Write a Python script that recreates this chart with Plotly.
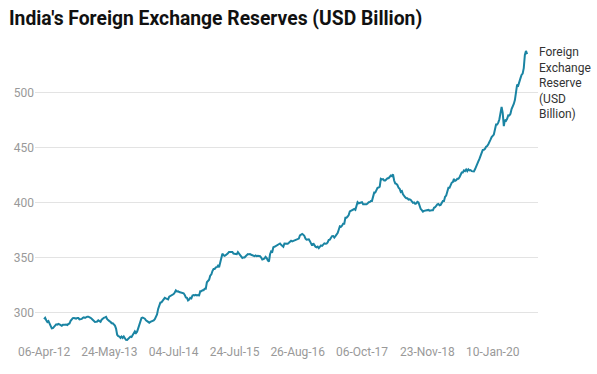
import pandas as pd
import plotly.graph_objects as go

start_date = "2012-04-06"  # weekly (Friday) observations

reserves = [
    # 2012 Apr-Dec
    294.4, 295.6, 293.4, 291.8,
    292.6, 290.0, 288.9, 286.0,
    286.3, 287.4, 289.1, 289.7, 289.4,
    290.0, 289.6, 288.6, 288.4,
    289.2, 289.0, 289.2, 289.4, 289.0,
    290.0, 290.4, 292.8, 294.8,
    295.3, 295.5, 295.2, 294.9,
    295.5, 295.4, 294.1, 294.3, 294.6,
    295.5, 296.0, 295.6, 296.5,
    # 2013
    296.6, 296.6, 296.4, 295.6,
    294.8, 293.6, 292.3, 291.8,
    291.9, 292.2, 293.3, 292.6, 292.0,
    293.9, 295.2, 295.6, 296.0,
    296.5, 294.3, 292.9, 292.6, 292.0,
    290.7, 290.6, 289.2, 288.5,
    285.8, 280.2, 279.0, 278.6,
    277.3, 278.6, 277.4, 278.7, 277.1,
    275.5, 275.4, 276.3, 277.4,
    278.5, 278.1, 280.1, 282.1,
    283.3, 281.8, 283.0, 286.0, 289.5,
    291.0, 295.5, 295.9, 295.5,
    # 2014
    294.8, 293.4, 292.8, 292.0, 291.2,
    291.9, 292.2, 292.5, 293.3,
    294.4, 297.0, 298.6, 303.7,
    305.9, 309.4, 309.7, 311.3,
    312.4, 313.8, 313.3, 312.7, 312.4,
    314.9, 315.6, 315.8, 316.2,
    317.2, 318.6, 320.6, 319.6,
    319.7, 319.0, 318.6, 318.8, 317.7,
    317.9, 316.4, 314.2, 313.8,
    311.4, 312.2, 313.8, 313.3, 315.9,
    316.3, 315.9, 316.4, 315.9,
    316.2, 316.0, 319.7, 319.7,
    # 2015
    320.6, 320.6, 322.1, 322.1, 327.9,
    328.7, 330.2, 333.9, 335.0,
    338.1, 339.9, 339.9, 341.4,
    341.6, 343.0, 341.6, 345.6,
    351.9, 353.9, 352.5, 352.0, 352.5,
    353.9, 354.3, 355.5, 355.6,
    355.5, 355.5, 354.0, 353.5, 353.6,
    353.4, 355.3, 354.0, 352.7,
    351.5, 350.0, 350.5, 350.5,
    351.6, 352.7, 353.6, 353.3, 353.5,
    352.9, 352.5, 352.6, 351.7,
    352.3, 351.6, 352.0, 352.1,
    # 2016
    351.6, 350.4, 348.6, 349.0, 349.6,
    351.0, 350.0, 347.8, 346.7,
    353.4, 356.0, 355.6, 359.8,
    360.2, 360.8, 361.5, 361.6, 362.2,
    363.2, 361.9, 360.5, 360.2,
    363.2, 363.2, 363.5, 362.9,
    363.8, 364.9, 365.7, 365.0, 365.4,
    365.7, 366.6, 366.8, 367.2,
    367.6, 370.6, 371.1, 371.9, 371.2,
    370.0, 367.6, 366.6, 366.8,
    367.0, 365.3, 363.6, 361.2,
    363.3, 361.6, 360.3, 359.7, 360.3,
    # 2017
    358.9, 360.3, 361.4, 361.0,
    362.0, 363.3, 362.9, 363.1,
    364.2, 366.4, 366.7, 367.9, 369.9,
    370.0, 368.6, 369.9, 371.1,
    372.7, 375.7, 378.8, 378.4,
    379.3, 381.2, 381.2, 386.5, 386.5,
    387.7, 389.0, 392.3, 392.9,
    393.4, 393.6, 394.5, 393.8,
    398.1, 400.7, 399.7, 400.0, 399.7,
    400.7, 398.8, 398.8, 398.8,
    398.8, 399.5, 400.7, 400.8,
    401.9, 401.9, 404.9, 409.4, 409.4,
    # 2018
    411.4, 413.8, 414.0, 414.8,
    421.9, 421.4, 421.7, 420.5,
    420.5, 421.5, 422.5, 422.5, 424.4,
    424.9, 424.4, 426.0, 420.4,
    417.8, 417.4, 416.2, 413.8,
    412.8, 410.1, 410.8, 407.8, 406.0,
    405.1, 404.2, 404.2, 403.1,
    403.4, 402.7, 400.8, 400.1, 400.5,
    399.3, 399.7, 401.0, 400.5,
    397.1, 394.5, 393.5, 392.1,
    392.8, 393.1, 393.1, 393.1, 393.7,
    393.0, 393.4, 393.3, 393.3,
    # 2019
    395.6, 396.1, 397.7, 398.8,
    399.2, 397.9, 398.3, 399.9,
    401.8, 401.8, 405.6, 406.7, 411.9,
    413.8, 413.8, 416.4, 418.5,
    419.0, 421.9, 420.1, 420.6, 421.9,
    421.9, 423.4, 426.4, 427.7,
    427.7, 429.6, 429.0, 430.4,
    428.9, 430.6, 429.6, 429.9, 428.9,
    429.0, 428.6, 430.6, 433.6,
    434.6, 437.8, 440.0, 442.6,
    446.1, 448.2, 448.3, 449.2, 451.1,
    451.7, 453.4, 454.9, 457.5,
    # 2020
    459.9, 461.2, 462.2, 466.7, 471.3,
    471.3, 473.0, 476.1, 481.9,
    487.2, 481.9, 469.9, 475.6,
    474.7, 476.5, 479.6, 479.5,
    481.1, 485.3, 487.0, 490.0, 493.5,
    501.7, 507.6, 506.8, 511.0,
    513.3, 516.4, 517.6, 522.6, 534.6,
    538.2, 535.3,
]

tick_dates = ["2012-04-06", "2013-05-24", "2014-07-04", "2015-07-24",
              "2016-08-26", "2017-10-06", "2018-11-23", "2020-01-10"]
tick_labels = ["06-Apr-12", "24-May-13", "04-Jul-14", "24-Jul-15",
               "26-Aug-16", "06-Oct-17", "23-Nov-18", "10-Jan-20"]
y_ticks = [300, 350, 400, 450, 500]

dates = pd.date_range(start=start_date, periods=len(reserves), freq="7D")

fig = go.Figure()
fig.add_trace(go.Scatter(
    x=dates, y=reserves, mode="lines",
    line=dict(color="#1a84a3", width=2),
    name="Foreign Exchange Reserve (USD Billion)",
    showlegend=False,
))

fig.add_annotation(
    x=1.0, xref="paper", xanchor="left", xshift=-1,
    y=1.0, yref="paper", yanchor="top", yshift=2,
    text="Foreign<br>Exchange<br>Reserve<br>(USD<br>Billion)",
    showarrow=False, align="left",
    font=dict(family="Roboto", size=12, color="#333333"),
)

fig.update_layout(
    width=597, height=374,
    margin=dict(l=35, r=59, t=45, b=31, autoexpand=False),
    paper_bgcolor="white", plot_bgcolor="white",
    font=dict(family="Roboto", size=12, color="#999999"),
    title=dict(
        text="<b>India's Foreign Exchange Reserves (USD Billion)</b>",
        x=0.015, xanchor="left", y=0.951, yanchor="middle",
        font=dict(family="Roboto", size=19.3, color="#111111"),
    ),
)
fig.update_xaxes(
    range=["2012-02-09", "2020-10-22"],
    tickvals=tick_dates, ticktext=tick_labels,
    showgrid=False, showline=False, zeroline=False, ticks="",
    automargin=False,
    tickfont=dict(size=12, color="#999999"),
)
fig.update_yaxes(
    range=[272.7, 543.6],
    tickvals=y_ticks,
    showgrid=True, gridcolor="#e3e3e3", gridwidth=1,
    showline=False, zeroline=False, ticks="",
    automargin=False,
    tickfont=dict(size=12, color="#999999"),
)

fig.write_html(
    "out.html",
    config={"displayModeBar": False},
    post_script="document.body.style.margin='0';document.body.style.overflow='hidden';",
)
